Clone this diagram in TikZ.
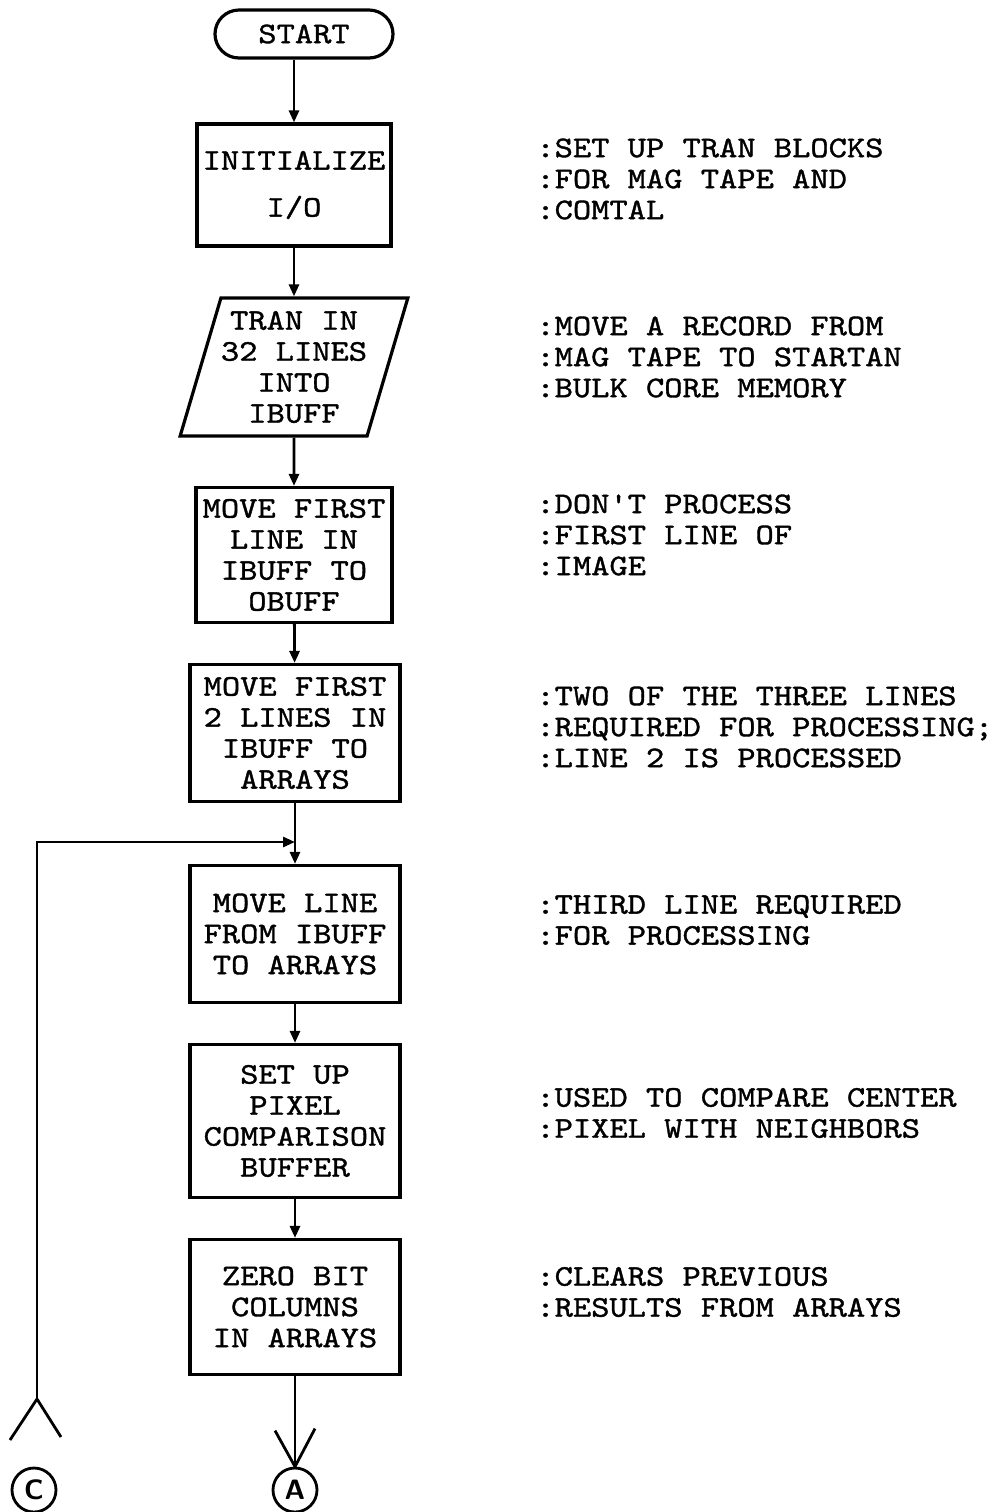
\documentclass[tikz,border=0pt]{standalone}
\usepackage{fontspec}
\newfontfamily\typewriter[FakeStretch=1.16,FakeBold=1.2]{lmmono10-regular.otf}
\usetikzlibrary{shapes.geometric,arrows.meta}

\tikzset{every picture/.style={line width=1.4pt}}
\tikzset{
  procbox/.style={draw,rectangle,line width=1.6pt,align=center,inner sep=0pt,
    font={\typewriter\fontsize{15}{15.5}\selectfont}},
  termbox/.style={procbox,rounded corners=12pt,minimum width=89pt,minimum height=24pt},
  iobox/.style={procbox,trapezium,trapezium left angle=70,trapezium right angle=110,
    trapezium stretches=true,minimum width=113.5pt,minimum height=69pt},
  note/.style={anchor=west,align=left,inner sep=0pt,
    font={\typewriter\fontsize{15}{15.5}\selectfont}},
  flow/.style={-{Triangle[length=6pt,width=5pt]}},
  connector/.style={draw,circle,line width=1.4pt,minimum size=22pt,inner sep=0pt,
    font={\sffamily\bfseries\fontsize{14}{14}\selectfont}},
}

\begin{document}
\begin{tikzpicture}[x=0.5pt,y=0.5pt,yscale=-1]
\useasboundingbox (0,0) rectangle (999,1512);

% flow chart column
\node[termbox] (start) at (304,34) {START};
\node[procbox,minimum width=97pt,minimum height=61pt] (init) at (294,185) {INITIALIZE\\[8pt]I/O};
\node[iobox] (tran) at (294,367) {TRAN IN\\32 LINES\\INTO\\IBUFF};
\node[procbox,minimum width=98pt,minimum height=67.5pt] (first) at (294,555) {MOVE FIRST\\LINE IN\\IBUFF TO\\OBUFF};
\node[procbox,minimum width=105pt,minimum height=68.5pt] (firsttwo) at (295,733) {MOVE FIRST\\2 LINES IN\\IBUFF TO\\ARRAYS};
\node[procbox,minimum width=105pt,minimum height=68.5pt] (moveline) at (295,934) {MOVE LINE\\FROM IBUFF\\TO ARRAYS};
\node[procbox,minimum width=105pt,minimum height=76.5pt] (pixel) at (295,1121) {SET UP\\PIXEL\\COMPARISON\\BUFFER};
\node[procbox,minimum width=105pt,minimum height=67.5pt] (zero) at (295,1307) {ZERO BIT\\COLUMNS\\IN ARRAYS};
\node[connector] (conA) at (295,1490) {A};
\node[connector] (conC) at (34,1490) {C};

% comments
\node[note] (noteinit) at (535,179) {:SET UP TRAN BLOCKS\\:FOR MAG TAPE AND\\:COMTAL};
\node[note] (notetran) at (535,357) {:MOVE A RECORD FROM\\:MAG TAPE TO STARTAN\\:BULK CORE MEMORY};
\node[note] (notefirst) at (535,535) {:DON'T PROCESS\\:FIRST LINE OF\\:IMAGE};
\node[note] (notetwo) at (535,727) {:TWO OF THE THREE LINES\\:REQUIRED FOR PROCESSING;\\:LINE 2 IS PROCESSED};
\node[note] (notemove) at (535,920) {:THIRD LINE REQUIRED\\:FOR PROCESSING};
\node[note] (notepixel) at (535,1113) {:USED TO COMPARE CENTER\\:PIXEL WITH NEIGHBORS};
\node[note] (notezero) at (535,1292) {:CLEARS PREVIOUS\\:RESULTS FROM ARRAYS};

% connectors
\draw[flow] (init.north |- start.south) -- (init);
\draw[flow] (init) -- (tran);
\draw[flow] (tran) -- (first);
\draw[flow] (first) -- (firsttwo);
\draw[flow] (firsttwo) -- (moveline);
\draw[flow] (moveline) -- (pixel);
\draw[flow] (pixel) -- (zero);

% return from C
\coordinate (join) at (295,842);
\coordinate (cfoot) at (37,1399);
\draw[flow] (cfoot) |- (join);
\draw (cfoot) -- (10,1440);
\draw (cfoot) -- (61,1437);

% off to A
\draw (zero) -- (conA);
\draw (conA.north) -- ++(-20,-36);
\draw (conA.north) -- ++(20,-38);
\end{tikzpicture}
\end{document}
